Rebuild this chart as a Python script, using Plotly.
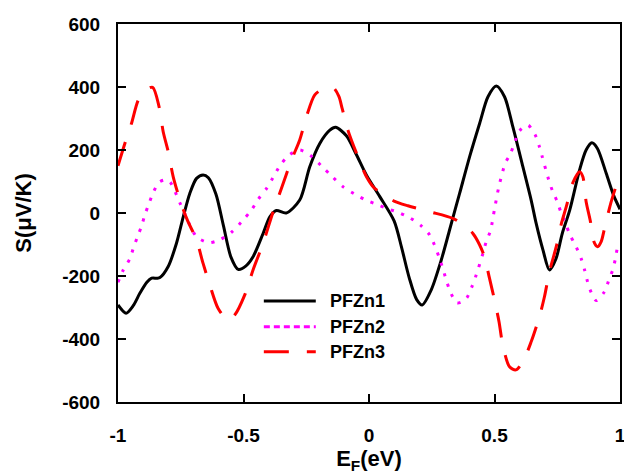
import plotly.graph_objects as go

# Seebeck coefficient S (uV/K) versus Fermi energy E_F (eV)
series_names = ["PFZn1", "PFZn2", "PFZn3"]

energy_pfzn1 = [-1.0, -0.968, -0.94, -0.913, -0.885, -0.866, -0.845, -0.833, -0.8, -0.767,
                -0.74, -0.714, -0.687, -0.661, -0.64, -0.61, -0.58, -0.55, -0.521, -0.49,
                -0.462, -0.422, -0.395, -0.369, -0.33, -0.276, -0.236, -0.196, -0.156, -0.133,
                -0.09, -0.05, -0.01, 0.043, 0.1, 0.13, 0.16, 0.19, 0.212, 0.248, 0.288,
                0.321, 0.348, 0.361, 0.401, 0.441, 0.474, 0.507, 0.54, 0.573, 0.613,
                0.646, 0.666, 0.693, 0.719, 0.745, 0.77, 0.80, 0.839, 0.865,
                0.888, 0.91, 0.945, 0.975, 1.0]
seebeck_pfzn1 = [-292, -318, -295, -255, -220, -207, -207, -205, -170, -96,
                 -12, 62, 110, 121, 112, 60, -40, -140, -179, -168,
                 -139, -65, -12, 8, 0, 41, 147, 221, 263, 272,
                 245, 185, 120, 52, -25, -110, -205, -275, -292, -244, -149,
                 -54, 25, 62, 179, 285, 369, 403, 369, 274, 147,
                 41, -33, -117, -181, -145, -65, 10, 137, 200,
                 223, 205, 126, 55, 12]

energy_pfzn2 = [-1.0, -0.979, -0.952, -0.939, -0.923, -0.906, -0.893, -0.876, -0.86, -0.836,
                -0.81, -0.793, -0.753, -0.733, -0.71, -0.685, -0.638, -0.597, -0.548, -0.508,
                -0.468, -0.442, -0.408, -0.384, -0.355, -0.318, -0.276, -0.232, -0.19, -0.146,
                -0.103, -0.057, -0.013, 0.029, 0.076, 0.12, 0.162, 0.206, 0.242, 0.281,
                0.308, 0.324, 0.35, 0.375, 0.39, 0.411, 0.427, 0.454, 0.467, 0.484,
                0.5, 0.517, 0.543, 0.563, 0.58, 0.6, 0.633, 0.662, 0.679, 0.69,
                0.716, 0.732, 0.75, 0.766, 0.783, 0.801, 0.825, 0.845, 0.859, 0.869,
                0.881, 0.905, 0.938, 0.958, 0.971, 0.982, 0.991, 1.0]
seebeck_pfzn2 = [-220, -181, -144, -112, -77, -41, -6, 31, 64, 98,
                 105, 99, 31, -4, -45, -77, -94, -86, -61, -28,
                 10, 43, 78, 110, 150, 184, 200, 182, 150, 115,
                 83, 60, 41, 28, 13, 1, -15, -39, -70, -144,
                 -213, -250, -285, -280, -269, -232, -197, -128, -91, -56,
                 12, 82, 158, 187, 223, 261, 279, 248, 210, 179,
                 105, 68, 36, -1, -33, -70, -107, -144, -181, -213,
                 -244, -278, -250, -207, -181, -144, -107, -95]

energy_pfzn3 = [-1.0, -0.973, -0.946, -0.919, -0.89, -0.862, -0.836, -0.82, -0.8, -0.78,
                -0.753, -0.724, -0.687, -0.661, -0.634, -0.601, -0.561, -0.535, -0.495, -0.462,
                -0.422, -0.382, -0.349, -0.309, -0.276, -0.249, -0.216, -0.18, -0.143, -0.12,
                -0.107, -0.084, -0.05, -0.01, 0.02, 0.062, 0.1, 0.155, 0.242, 0.334,
                0.38, 0.414, 0.44, 0.46, 0.48, 0.5, 0.518, 0.533, 0.56, 0.585,
                0.613, 0.646, 0.679, 0.699, 0.719, 0.746, 0.766, 0.786, 0.812, 0.839,
                0.852, 0.865, 0.881, 0.898, 0.911, 0.925, 0.938, 0.965, 0.991, 1.0]
seebeck_pfzn3 = [150, 220, 285, 359, 390, 399, 336, 258, 195, 115,
                 41, -22, -86, -160, -229, -303, -340, -324, -260, -181,
                 -96, 4, 78, 168, 232, 306, 375, 395, 398, 370,
                 332, 263, 190, 115, 80, 57, 38, 23, 4, -17,
                 -40, -65, -100, -139, -207, -276, -345, -419, -488, -498,
                 -472, -409, -329, -266, -186, -107, -35, 20, 96, 131,
                 115, 36, -22, -95, -107, -91, -50, 36, 99, 110]

x_tick_vals = [-1, -0.5, 0, 0.5, 1]
x_tick_text = ["-1", "-0.5", "0", "0.5", "1"]
y_tick_vals = [-600, -400, -200, 0, 200, 400, 600]
y_tick_text = ["-600", "-400", "-200", "0", "200", "400", "600"]

line_styles = [
    dict(color="black", width=3, dash="solid"),
    dict(color="#ff00ff", width=3, dash="3px,8px"),
    dict(color="#ff0000", width=3, dash="25px,18px"),
]
legend_dash = ["solid", "6px,4px", "25px,18px"]

FONT = "Liberation Sans, Arial, sans-serif"

fig = go.Figure()
for name, xs, ys, style in zip(series_names,
                               [energy_pfzn1, energy_pfzn2, energy_pfzn3],
                               [seebeck_pfzn1, seebeck_pfzn2, seebeck_pfzn3],
                               line_styles):
    fig.add_trace(go.Scatter(x=xs, y=ys, mode="lines", name=name,
                             line=dict(shape="spline", smoothing=0.8, **style),
                             showlegend=False))

# Legend drawn as sample lines with labels inside the plot area
legend_x0, legend_x1, legend_text_x = 0.2905, 0.394, 0.418
legend_rows = [0.267, 0.199, 0.133]
for name, style, dash, yrow in zip(series_names, line_styles, legend_dash, legend_rows):
    fig.add_shape(type="line", xref="paper", yref="paper",
                  x0=legend_x0, x1=legend_x1, y0=yrow, y1=yrow,
                  line=dict(color=style["color"], width=3, dash=dash))
    fig.add_annotation(xref="paper", yref="paper", x=legend_text_x, y=yrow,
                       text=name, showarrow=False, xanchor="left", yanchor="middle",
                       font=dict(family=FONT, size=18, color="black", weight="bold"))

axis_common = dict(showline=True, linecolor="black", linewidth=2, mirror="allticks",
                   ticks="inside", ticklen=8, tickwidth=2, tickcolor="black",
                   showgrid=False, zeroline=False, automargin=False,
                   ticklabeloverflow="allow",
                   tickfont=dict(family=FONT, size=19, color="black", weight="bold"))

fig.update_xaxes(range=[-1, 1], tickmode="array", tickvals=x_tick_vals, ticktext=x_tick_text,
                 ticklabelstandoff=15,
                 title=dict(text="E<sub>F</sub>(eV)", standoff=10,
                            font=dict(family=FONT, size=22, color="black", weight="bold")),
                 **axis_common)
fig.update_yaxes(range=[-600, 600], tickmode="array", tickvals=y_tick_vals, ticktext=y_tick_text,
                 ticklabelstandoff=12,
                 title=dict(text="S(\u03bcV/K)", standoff=24,
                            font=dict(family=FONT, size=22, color="black", weight="bold")),
                 **axis_common)

fig.update_layout(width=624, height=474,
                  margin=dict(l=118, r=4, t=24, b=72),
                  paper_bgcolor="white", plot_bgcolor="white")

fig.write_html("out.html")
